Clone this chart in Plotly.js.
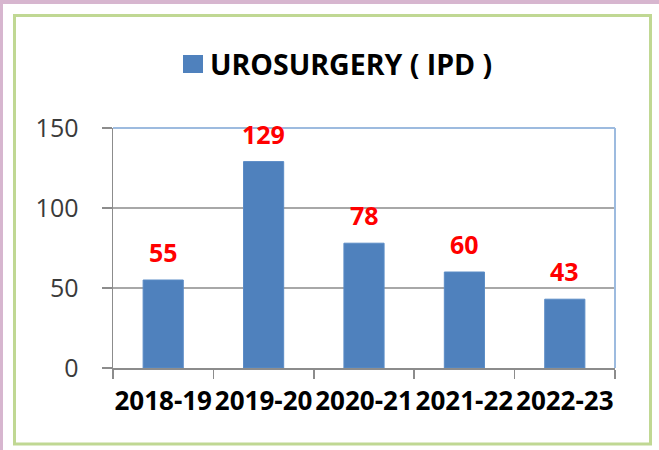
<!DOCTYPE html>
<html>
<head>
<meta charset="utf-8">
<script src="https://cdn.plot.ly/plotly-3.0.1.min.js"></script>
<style>html,body{margin:0;padding:0;background:#fff;}#chart{width:659px;height:450px;}</style>
</head>
<body>
<div id="chart"></div>
<script>
const categories = ['2018-19', '2019-20', '2020-21', '2021-22', '2022-23'];
const values = [55, 129, 78, 60, 43];
const seriesName = 'UROSURGERY ( IPD )';
const yTicks = [0, 50, 100, 150];

const W = 659, H = 450;
const M = {l: 113, r: 44, t: 128, b: 82};
const PW = W - M.l - M.r, PH = H - M.t - M.b;
const px2x = p => (p - M.l) / PW;
const py2y = p => (H - M.b - p) / PH;

const FONT = '"Open Sans", "DejaVu Sans", sans-serif';
const BAR_COLOR = '#4f81bd';

const trace = {
  type: 'bar',
  x: categories,
  y: values,
  name: seriesName,
  marker: {color: BAR_COLOR, line: {color: '#5b8cc6', width: 1}},
  showlegend: false,
  hoverinfo: 'x+y'
};

const annotations = categories.map((c, i) => ({
  x: c, y: values[i], xref: 'x', yref: 'y',
  text: String(values[i]),
  showarrow: false, yanchor: 'bottom', yshift: 9,
  font: {family: FONT, size: 25, color: '#ff0000', weight: 'bold'}
}));

// legend entry (series name) drawn as real text beside a colour key
annotations.push({
  xref: 'paper', yref: 'paper', x: px2x(208), y: py2y(64),
  xanchor: 'left', yanchor: 'middle', showarrow: false,
  text: seriesName,
  font: {family: FONT, size: 28.5, color: '#000000', weight: 'bold'}
});

const shapes = [
  // lavender frame strips (top and left)
  {type: 'rect', xref: 'paper', yref: 'paper', x0: px2x(0), x1: px2x(W), y0: py2y(0), y1: py2y(4),
   fillcolor: '#d7b6cf', line: {width: 0}, layer: 'below'},
  {type: 'rect', xref: 'paper', yref: 'paper', x0: px2x(0), x1: px2x(3), y0: py2y(0), y1: py2y(H),
   fillcolor: '#d7b6cf', line: {width: 0}, layer: 'below'},
  // green border
  {type: 'rect', xref: 'paper', yref: 'paper', x0: px2x(14.5), x1: px2x(650.5), y0: py2y(15.5), y1: py2y(444),
   fillcolor: 'rgba(0,0,0,0)', line: {color: '#c0d893', width: 3}, layer: 'below'},
  // legend key
  {type: 'rect', xref: 'paper', yref: 'paper', x0: px2x(183), x1: px2x(203), y0: py2y(55), y1: py2y(73),
   fillcolor: BAR_COLOR, line: {width: 0}},
  // plot area border top and right
  {type: 'line', xref: 'paper', yref: 'paper', x0: 0, x1: 1, y0: 1, y1: 1,
   line: {color: '#9dbbdf', width: 2}},
  {type: 'line', xref: 'paper', yref: 'paper', x0: 1, x1: 1, y0: 0, y1: 1,
   line: {color: '#9dbbdf', width: 2}}
];

const layout = {
  width: W, height: H,
  margin: M,
  paper_bgcolor: '#ffffff',
  plot_bgcolor: 'rgba(0,0,0,0)',
  bargap: 0.6,
  showlegend: false,
  xaxis: {
    type: 'category', range: [-0.5, 4.5],
    tickson: 'boundaries', ticks: 'outside', ticklen: 9, tickcolor: '#8c8c8c', tickwidth: 1.5,
    showline: true, linecolor: '#8c8c8c', linewidth: 1.5,
    showgrid: false, tickangle: 0,
    ticklabelstandoff: 9,
    tickfont: {family: FONT, size: 26, color: '#000000', weight: 'bold'},
    fixedrange: true
  },
  yaxis: {
    range: [0, 150], tickvals: yTicks,
    ticks: 'outside', ticklen: 10, tickcolor: '#8c8c8c', tickwidth: 1.5,
    showline: true, linecolor: '#8c8c8c', linewidth: 1.5,
    showgrid: true, gridcolor: '#a8a8a8', gridwidth: 1.2, zeroline: false,
    ticklabelstandoff: 18,
    tickfont: {family: FONT, size: 25, color: '#3a3a3a'},
    fixedrange: true
  },
  annotations: annotations,
  shapes: shapes
};

Plotly.newPlot('chart', [trace], layout, {displayModeBar: false, staticPlot: true});
</script>
</body>
</html>
